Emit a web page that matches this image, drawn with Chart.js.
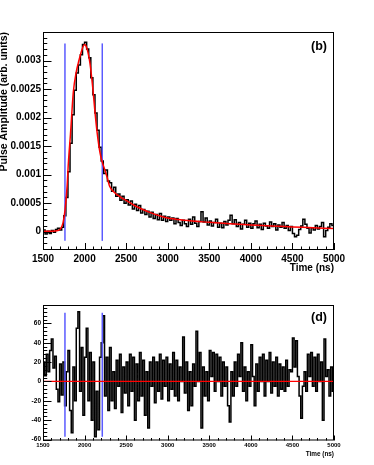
<!DOCTYPE html>
<html>
<head>
<meta charset="utf-8">
<script src="https://cdn.jsdelivr.net/npm/chart.js@4.4.0/dist/chart.umd.min.js"></script>
<style>
  html, body { margin: 0; padding: 0; background: #fff; }
  #wrap { position: relative; width: 374px; height: 465px; }
  #pulse { position: absolute; left: 0; top: 0; }
  #resid { position: absolute; left: 0; top: 280px; }
</style>
</head>
<body>
<div id="wrap">
  <canvas id="pulse" width="374" height="280"></canvas>
  <canvas id="resid" width="374" height="185"></canvas>
</div>
<script>
// ---- data ----
// panel (b): averaged pulse, 25 ns bins from 1500 ns, amplitude in units of 1e-4
const pulseStart = 1500;
const pulseBinWidth = 25;
const AMP_UNIT = 1e-4;
const pulseAmp = [
  0.3, -0.4, 0.1, -0.3, 0.2, -0.1, 0.4, 0.6, 0.3, 0.8,
  2.8, 6.0, 10.5, 15.5, 20.5, 24.8, 27.8, 29.2, 31.0, 32.8,
  33.2, 32.0, 30.5, 27.0, 24.0, 20.8, 17.8, 14.8, 12.4, 10.2,
  10.8, 8.9, 8.6, 7.1, 7.8, 6.2, 6.6, 5.5, 6.2, 5.0,
  5.6, 4.7, 5.4, 4.0, 4.8, 3.7, 4.6, 3.3, 3.9, 3.0,
  3.6, 2.6, 3.4, 2.3, 3.0, 2.1, 3.2, 2.0, 2.7, 1.8,
  2.6, 2.0, 2.4, 1.4, 2.3, 1.6, 1.1, 2.0, 1.4, 0.9,
  2.2, 1.3, 2.6, 1.5, 0.9, 1.8, 3.5, 1.7, 2.4, 1.2,
  1.9, 1.0, 1.6, 2.2, 0.8, 1.5, 0.7, 1.8, 1.2, 2.0,
  2.9, 1.4, 2.1, 0.9, 1.6, 0.5, 1.3, 2.0, 0.8, 1.5,
  0.6, 1.4, 1.9, 0.7, 1.3, 0.4, 1.5, 1.0, 0.6, 1.7,
  0.9, 1.4, 0.3, 1.2, 0.8, 1.6, 0.6, 1.1, 0.2, 0.9,
  -0.3, -0.9, -0.6, 0.4, 1.0, 2.2, 1.3, 0.6, -0.2, 0.7,
  0.3, 1.1, 0.5, 0.9, 1.6, -0.9, 0.2, 0.8, 1.4, 1.1
];
// fitted pulse shape (red)
const fitTime = [1500, 1600, 1680, 1710, 1740, 1765, 1790, 1805, 1830, 1865, 1900, 1925, 1960, 2000, 2015,
  2040, 2065, 2100, 2125, 2150, 2186, 2210, 2240, 2270, 2300, 2350, 2400, 2450, 2500, 2600,
  2700, 2800, 2900, 3000, 3100, 3200, 3500, 3750, 4000, 4250, 4500, 4750, 5000];
const fitAmp = [0.1, 0.1, 0.2, 0.5, 1.5, 3.8, 8.0, 12.0, 17.0, 24.5, 28.0, 29.6, 31.5, 32.8, 32.6,
  31.5, 29.5, 25.0, 21.0, 17.5, 13.8, 12.3, 11.0, 9.6, 8.0, 7.0, 6.4, 5.9, 5.5, 4.6,
  3.9, 3.3, 2.8, 2.4, 2.2, 2.0, 1.65, 1.4, 1.2, 1.0, 0.85, 0.7, 0.55];
// integration window (blue)
const windowTimes = [1764, 2213];

// panel (d): residual trace, 20 ns bins from 1500 ns
const residStart = 1500;
const residBinWidth = 20;
const residVals = [
  20, 6, 28, 10, 32, 44, 14, 26, -8, -21,
  18, -14, 20, -25, 10, 32, -30, -53, 15, -20,
  55, 72, -10, 35, -35, 25, 55, -20, 30, -40,
  20, -57, -10, -50, 25, 40, 68, -15, 25, -30,
  35, -20, 10, -28, 22, -5, 28, -32, 15, -12,
  20, -25, 28, -10, 25, -40, 18, -20, 30, -15,
  22, -35, 10, -48, 20, -5, 25, -22, 20, -10,
  28, -18, 22, -5, 25, -20, 18, -8, 30, -15,
  22, -20, 15, 0, 46, -12, 20, -30, 10, -25,
  18, -5, 52, 0, 30, -48, 15, -15, 10, -20,
  32, 5, 30, -10, 28, 0, 25, -15, 20, -5,
  15, -25, -42, 10, -15, 20, -5, 28, 5, 40,
  -10, 15, -20, 10, -5, 38, 5, -25, 18, -10,
  25, 0, 28, -15, 22, 0, 30, -12, 20, -5,
  25, -15, 18, -8, 15, -10, 22, -5, 12, 10,
  45, 15, 42, 5, -15, -38, -5, 10, -10, 28,
  5, 30, -5, 25, -10, 28, 0, 20, -40, 44,
  5, 12, -15, 15, -10
];

// axis ticks
const timeTicks = [1500, 2000, 2500, 3000, 3500, 4000, 4500, 5000];
const ampTicks = [0, 0.0005, 0.001, 0.0015, 0.002, 0.0025, 0.003];
const ampTickLabels = ["0", "0.0005", "0.001", "0.0015", "0.002", "0.0025", "0.003"];
const residTicks = [-60, -40, -20, 0, 20, 40, 60];

const FONT = "'Liberation Sans', Arial, Helvetica, sans-serif";
const BLUE = "#5a5aff";

function stepPoints(start, width, values, unit) {
  const pts = values.map((v, i) => ({ x: start + i * width, y: v * unit }));
  // close the last bin
  pts.push({ x: start + values.length * width, y: values[values.length - 1] * unit });
  return pts;
}

// ROOT-like frame with ticks drawn inwards + panel tag
const rootFrame = {
  id: "rootFrame",
  afterDatasetsDraw(chart, args, o) {
    const { ctx, chartArea: a, scales: { x, y } } = chart;
    ctx.save();
    ctx.strokeStyle = "#000";
    ctx.lineWidth = 1;
    ctx.strokeRect(a.left + 0.5, a.top + 0.5, a.width - 1, a.height - 1);
    ctx.beginPath();
    for (let k = Math.ceil(x.min / o.xMinor - 1e-6); k * o.xMinor <= x.max + 1e-6; k++) {
      const px = Math.round(x.getPixelForValue(k * o.xMinor)) + 0.5;
      const len = k % o.xDiv === 0 ? o.xMajorLen : o.xMajorLen / 2;
      ctx.moveTo(px, a.bottom);
      ctx.lineTo(px, a.bottom - len);
    }
    for (let k = Math.ceil(y.min / o.yMinor - 1e-6); k * o.yMinor <= y.max + 1e-9; k++) {
      const py = Math.round(y.getPixelForValue(k * o.yMinor)) + 0.5;
      const len = k % o.yDiv === 0 ? o.yMajorLen : o.yMajorLen / 2;
      ctx.moveTo(a.left, py);
      ctx.lineTo(a.left + len, py);
    }
    ctx.stroke();
    ctx.fillStyle = "#000";
    ctx.font = "bold 12.5px " + FONT;
    ctx.textAlign = "right";
    ctx.textBaseline = "middle";
    ctx.fillText(o.tag, a.right - 7, a.top + o.tagDy);
    ctx.restore();
  },
};

function lineSet(data, color, width, extra) {
  return Object.assign({ data, borderColor: color, backgroundColor: color, borderWidth: width,
    pointRadius: 0, fill: false }, extra || {});
}

const timeLabel = (v) => String(v);

// ---- panel (b) ----
new Chart(document.getElementById("pulse"), {
  type: "line",
  data: {
    datasets: [
      lineSet(fitTime.map((t, i) => ({ x: t, y: fitAmp[i] * AMP_UNIT })), "#ff0000", 1.5, { cubicInterpolationMode: "monotone" }),
      lineSet([{ x: windowTimes[0], y: -0.00016 }, { x: windowTimes[0], y: 0.0033 }], BLUE, 1.5),
      lineSet([{ x: windowTimes[1], y: -0.00016 }, { x: windowTimes[1], y: 0.0033 }], BLUE, 1.5),
      lineSet(stepPoints(pulseStart, pulseBinWidth, pulseAmp, AMP_UNIT), "#000", 1.5, { stepped: "before" }),
    ],
  },
  options: {
    responsive: false,
    animation: false,
    layout: { padding: { left: 0, top: 32, right: 40, bottom: 0 } },
    plugins: {
      legend: { display: false },
      tooltip: { enabled: false },
      rootFrame: { xMinor: 100, xDiv: 5, xMajorLen: 7, yMinor: 0.0001, yDiv: 5, yMajorLen: 8.5, tag: "(b)", tagDy: 15 },
    },
    scales: {
      x: {
        type: "linear", min: 1500, max: 5000,
        afterBuildTicks: (s) => { s.ticks = timeTicks.map((v) => ({ value: v })); },
        afterFit: (s) => { s.height = 30; },
        grid: { display: false, drawTicks: false },
        border: { display: false },
        ticks: { autoSkip: false, maxRotation: 0, padding: 3, color: "#000", callback: timeLabel,
          font: { family: FONT, size: 10, weight: "bold" } },
        title: { display: true, text: "Time (ns)", align: "end", color: "#000", padding: { top: 0, bottom: 6 },
          font: { family: FONT, size: 10, weight: "bold" } },
      },
      y: {
        type: "linear", min: -0.00032, max: 0.0035,
        afterBuildTicks: (s) => { s.ticks = ampTicks.map((v) => ({ value: v })); },
        afterFit: (s) => { s.width = 43; },
        grid: { display: false, drawTicks: false },
        border: { display: false },
        ticks: { autoSkip: false, padding: 2, color: "#000", font: { family: FONT, size: 10, weight: "bold" },
          callback: (v, i) => ampTickLabels[i] },
        title: { display: true, text: "Pulse Amplitude (arb. units)", align: "end", color: "#000", padding: 0,
          font: { family: FONT, size: 10.5, weight: "bold", lineHeight: 0.8 } },
      },
    },
  },
  plugins: [rootFrame],
});

// ---- panel (d) ----
new Chart(document.getElementById("resid"), {
  type: "line",
  data: {
    datasets: [
      lineSet([{ x: 1500, y: 0 }, { x: 5000, y: 0 }], "#ff0000", 1.2),
      lineSet([{ x: windowTimes[0], y: -57 }, { x: windowTimes[0], y: 71 }], BLUE, 1.5),
      lineSet([{ x: windowTimes[1], y: -57 }, { x: windowTimes[1], y: 71 }], BLUE, 1.5),
      lineSet(stepPoints(residStart, residBinWidth, residVals, 1), "#000", 1.5, { stepped: "before" }),
    ],
  },
  options: {
    responsive: false,
    animation: false,
    layout: { padding: { left: 0, top: 25, right: 40, bottom: 0 } },
    plugins: {
      legend: { display: false },
      tooltip: { enabled: false },
      rootFrame: { xMinor: 100, xDiv: 5, xMajorLen: 5, yMinor: 4, yDiv: 5, yMajorLen: 8.5, tag: "(d)", tagDy: 13 },
    },
    scales: {
      x: {
        type: "linear", min: 1500, max: 5000,
        afterBuildTicks: (s) => { s.ticks = timeTicks.map((v) => ({ value: v })); },
        afterFit: (s) => { s.height = 24.5; },
        grid: { display: false, drawTicks: false },
        border: { display: false },
        ticks: { autoSkip: false, maxRotation: 0, padding: 1.5, color: "#000", callback: timeLabel,
          font: { family: FONT, size: 6, weight: "bold" } },
        title: { display: true, text: "Time (ns)", align: "end", color: "#000", padding: { top: 0, bottom: 7 },
          font: { family: FONT, size: 6.4, weight: "bold" } },
      },
      y: {
        type: "linear", min: -61, max: 79,
        afterBuildTicks: (s) => { s.ticks = residTicks.map((v) => ({ value: v })); },
        afterFit: (s) => { s.width = 43; },
        grid: { display: false, drawTicks: false },
        border: { display: false },
        ticks: { autoSkip: false, padding: 2, color: "#000", font: { family: FONT, size: 6.5, weight: "bold" } },
      },
    },
  },
  plugins: [rootFrame],
});
</script>
</body>
</html>
